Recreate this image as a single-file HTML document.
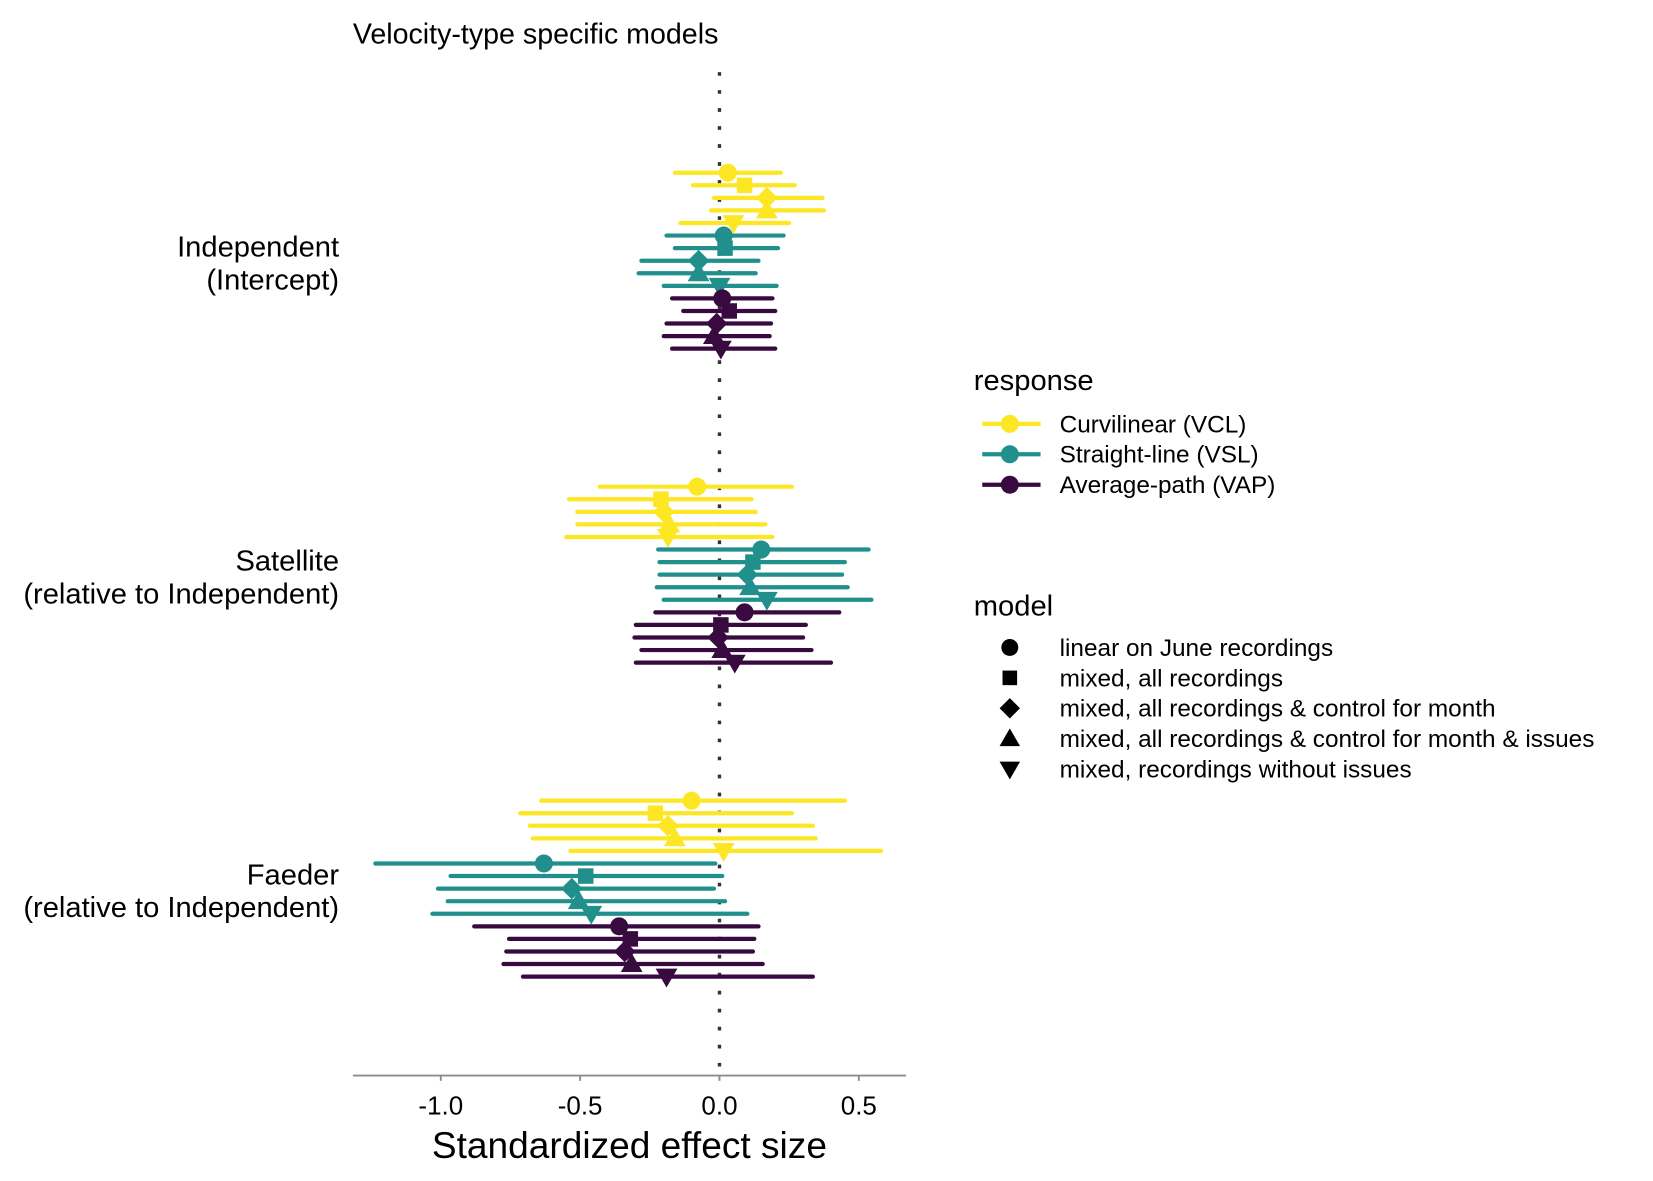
<!DOCTYPE html>
<html><head><meta charset="utf-8"><style>
html,body{margin:0;padding:0;background:#fff;}
svg{display:block;font-family:"Liberation Sans",Arial,sans-serif;}
</style></head><body>
<svg id="chart" width="1653" height="1181" viewBox="0 0 1560 1114.5" xmlns="http://www.w3.org/2000/svg">
<text x="333" y="41" font-size="27">Velocity-type specific models</text>
<line x1="679" y1="68" x2="679" y2="1015" stroke="#333" stroke-width="3.2" stroke-dasharray="3.5,13.5"/>
<g id="marks"></g>
<line x1="333" y1="1015" x2="855" y2="1015" stroke="#8c8c8c" stroke-width="1.8"/>
<g id="xaxis"></g>
<text x="594" y="1093" font-size="35" text-anchor="middle">Standardized effect size</text>
<g id="ylabels" font-size="27.5" text-anchor="end"></g>
<g>
<text x="919" y="368" font-size="27.5">response</text>
<g id="legresp"></g>
</g>
<g>
<text x="919" y="581" font-size="27.5">model</text>
<g id="legmodel"></g>
</g>
</svg>
<script>
const groups = ["Independent\n(Intercept)", "Satellite\n(relative to Independent)", "Faeder\n(relative to Independent)"];
const responses = ["Curvilinear (VCL)", "Straight-line (VSL)", "Average-path (VAP)"];
const models = ["linear on June recordings", "mixed, all recordings", "mixed, all recordings & control for month", "mixed, all recordings & control for month & issues", "mixed, recordings without issues"];
const xTicks = [-1.0, -0.5, 0.0, 0.5];
const xTickLabels = ["-1.0", "-0.5", "0.0", "0.5"];
// estimates [group][response][model]
const est = [
 [[0.03,0.09,0.17,0.17,0.05],[0.015,0.02,-0.075,-0.075,0.0],[0.01,0.035,-0.01,-0.02,0.005]],
 [[-0.08,-0.21,-0.2,-0.18,-0.185],[0.15,0.12,0.1,0.11,0.17],[0.09,0.005,-0.005,0.01,0.055]],
 [[-0.1,-0.23,-0.185,-0.16,0.015],[-0.63,-0.48,-0.53,-0.505,-0.46],[-0.36,-0.32,-0.34,-0.315,-0.19]]
];
const lower = [
 [[-0.16,-0.095,-0.02,-0.03,-0.14],[-0.19,-0.16,-0.28,-0.29,-0.2],[-0.17,-0.13,-0.19,-0.2,-0.17]],
 [[-0.43,-0.54,-0.51,-0.51,-0.55],[-0.22,-0.215,-0.215,-0.225,-0.2],[-0.23,-0.3,-0.305,-0.28,-0.3]],
 [[-0.64,-0.715,-0.68,-0.67,-0.535],[-1.235,-0.965,-1.01,-0.975,-1.03],[-0.88,-0.755,-0.765,-0.775,-0.705]]
];
const upper = [
 [[0.22,0.27,0.37,0.375,0.25],[0.23,0.21,0.14,0.13,0.205],[0.19,0.2,0.185,0.18,0.2]],
 [[0.26,0.115,0.13,0.165,0.19],[0.535,0.45,0.44,0.46,0.545],[0.43,0.31,0.3,0.33,0.4]],
 [[0.45,0.26,0.335,0.345,0.58],[-0.015,0.01,-0.02,0.02,0.1],[0.14,0.125,0.12,0.155,0.335]]
];
const colors = ["#fde725","#21908c","#380a40"];
const NS="http://www.w3.org/2000/svg";
const X = v => 679 + 263*v;
const groupY = g => 246 + 296.3*g;
const rowY = (g,r,m) => groupY(g) + ((r*5+m) - 7)*11.86;
function mk(tag, attrs, parent){const e=document.createElementNS(NS,tag);for(const k in attrs)e.setAttribute(k,attrs[k]);parent.appendChild(e);return e;}
function shape(m, cx, cy, s, fill, parent){
  let e;
  if(m===0){e=mk('circle',{cx:cx,cy:cy,r:s*0.5,fill:fill},parent);}
  else if(m===1){e=mk('rect',{x:cx-s*0.43,y:cy-s*0.43,width:s*0.86,height:s*0.86,fill:fill},parent);}
  else if(m===2){const d=s*0.6;e=mk('polygon',{points:`${cx},${cy-d} ${cx+d},${cy} ${cx},${cy+d} ${cx-d},${cy}`,fill:fill},parent);}
  else if(m===3){const h=s*0.55;e=mk('polygon',{points:`${cx},${cy-h*1.1} ${cx+h*1.1},${cy+h*0.8} ${cx-h*1.1},${cy+h*0.8}`,fill:fill},parent);}
  else {const h=s*0.55;e=mk('polygon',{points:`${cx},${cy+h*1.1} ${cx+h*1.1},${cy-h*0.8} ${cx-h*1.1},${cy-h*0.8}`,fill:fill},parent);}
  return e;
}
const marks=document.getElementById('marks');
for(let g=0;g<groups.length;g++){
  for(let r=0;r<responses.length;r++){
    for(let m=0;m<models.length;m++){
      const y=rowY(g,r,m);
      const l=mk('line',{x1:X(lower[g][r][m]),x2:X(upper[g][r][m]),y1:y,y2:y,stroke:colors[r],'stroke-width':4,'stroke-linecap':'round'},marks);
      
      
    }
  }
}
for(let g=0;g<groups.length;g++){
  for(let r=0;r<responses.length;r++){
    for(let m=0;m<models.length;m++){
      const p=shape(m,X(est[g][r][m]),rowY(g,r,m),17,colors[r],marks);
      
      
    }
  }
}
const xa=document.getElementById('xaxis');
xTicks.forEach((t,i)=>{
  const tk=mk('line',{x1:X(t),x2:X(t),y1:1015,y2:1020,stroke:'#8c8c8c','stroke-width':1.8},xa);
  
  
  const tx=mk('text',{x:X(t),y:1052,'font-size':24.5,'text-anchor':'middle'},xa);
  tx.textContent=xTickLabels[i];
  
  
});
const yl=document.getElementById('ylabels');
groups.forEach((gname,g)=>{
  const parts=gname.split("\n");
  const c=groupY(g);
  parts.forEach((p,j)=>{
    const t=mk('text',{x:320,y:c-4+j*31},yl);
    t.textContent=p;
    
    
  });
});
const lr=document.getElementById('legresp');
responses.forEach((name,i)=>{
  const y=400+i*28.7;
  const g=mk('g',{},lr);
  
  
  mk('line',{x1:927,x2:982,y1:y,y2:y,stroke:colors[i],'stroke-width':4},g);
  mk('circle',{cx:953,cy:y,r:8.5,fill:colors[i]},g);
  const t=mk('text',{x:1000,y:y+8,'font-size':23},g);t.textContent=name;
});
const lm=document.getElementById('legmodel');
models.forEach((name,i)=>{
  const y=611+i*28.7;
  const g=mk('g',{},lm);
  
  
  shape(i,953,y,16,'#000',g);
  const t=mk('text',{x:1000,y:y+8,'font-size':23},g);t.textContent=name;
});
</script>
</body></html>
